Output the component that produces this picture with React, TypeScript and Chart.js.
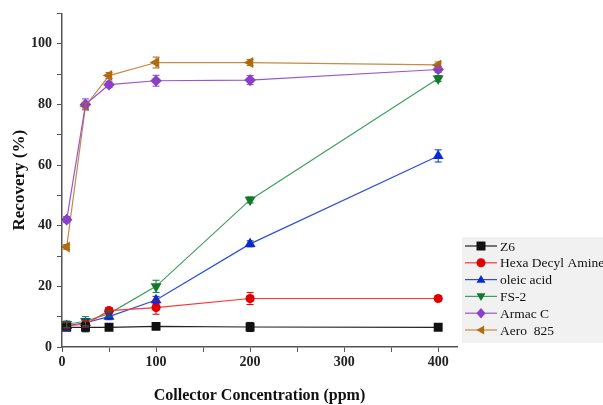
import React, { useEffect, useRef } from "react";
import { Chart, registerables } from "chart.js";

Chart.register(...registerables);

const concentrations = [5, 25, 50, 100, 200, 400];
const seriesNames = ["Z6", "Hexa Decyl Amine", "oleic acid", "FS-2", "Armac C", "Aero  825"];
const z6 = [6.5, 6.5, 6.5, 6.8, 6.6, 6.5];
const hexa = [7.0, 7.5, 12.0, 13.0, 16.0, 16.0];
const oleic = [7.0, 8.0, 10.0, 15.5, 34.0, 63.0];
const fs2 = [7.5, 8.5, 11.0, 20.0, 48.5, 88.5];
const armac = [42.0, 80.0, 86.5, 87.8, 88.0, 91.5];
const aero = [33.0, 79.5, 89.5, 93.8, 93.8, 93.0];
const z6Err = [1.0, 1.5, 0.8, 0.8, 1.5, 0.6];
const hexaErr = [1.0, 1.0, 1.0, 2.2, 2.0, 0.8];
const oleicErr = [1.5, 1.2, 1.0, 1.2, 1.0, 2.0];
const fs2Err = [1.0, 1.5, 1.0, 2.0, 1.0, 1.0];
const armacErr = [1.0, 1.8, 1.0, 1.8, 1.5, 1.0];
const aeroErr = [0.8, 1.0, 1.0, 1.8, 1.0, 1.0];
const xTicks = [0, 100, 200, 300, 400];
const yTicks = [0, 20, 40, 60, 80, 100];

const values = [z6, hexa, oleic, fs2, armac, aero];
const errors = [z6Err, hexaErr, oleicErr, fs2Err, armacErr, aeroErr];
const lineColors = ["#222222", "#ff3535", "#2a4ee0", "#3f9f5f", "#9a55d0", "#c48c45"];
const markColors = ["#111111", "#e00000", "#0a2ad0", "#117a2a", "#8a3fc9", "#b06a10"];
const markStyles = ["rect", "circle", "triangle", "triangle", "rectRot", "triangle"];
const markRot = [0, 0, 0, 180, 0, -90];
const markRad = [6.3, 4.6, 6.3, 6.3, 5.8, 6.3];

const SERIF = "'Liberation Serif', 'Times New Roman', serif";

const errorBarPlugin = {
  id: "errorBars",
  afterDatasetsDraw(chart: any) {
    const ctx = chart.ctx;
    const yScale = chart.scales.y;
    chart.data.datasets.forEach((ds: any, i: number) => {
      const meta = chart.getDatasetMeta(i);
      const errs = errors[i];
      ctx.save();
      ctx.strokeStyle = markColors[i];
      ctx.lineWidth = 1;
      meta.data.forEach((pt: any, j: number) => {
        const v = values[i][j];
        const e = errs[j];
        const yTop = yScale.getPixelForValue(v + e);
        const yBot = yScale.getPixelForValue(v - e);
        const x = pt.x;
        ctx.beginPath();
        ctx.moveTo(x, yTop);
        ctx.lineTo(x, yBot);
        ctx.moveTo(x - 3.5, yTop);
        ctx.lineTo(x + 3.5, yTop);
        ctx.moveTo(x - 3.5, yBot);
        ctx.lineTo(x + 3.5, yBot);
        ctx.stroke();
      });
      ctx.restore();
    });
  },
};

function drawMarker(ctx: CanvasRenderingContext2D, style: string, r: number, x: number, y: number, rotDeg: number) {
  ctx.save();
  ctx.translate(x, y);
  ctx.rotate((rotDeg * Math.PI) / 180);
  ctx.beginPath();
  if (style === "rect") {
    ctx.rect(-r, -r, r * 2, r * 2);
  } else if (style === "circle") {
    ctx.arc(0, 0, r, 0, Math.PI * 2);
  } else if (style === "rectRot") {
    ctx.moveTo(0, -r * 1.15);
    ctx.lineTo(r, 0);
    ctx.lineTo(0, r * 1.15);
    ctx.lineTo(-r, 0);
    ctx.closePath();
  } else {
    ctx.moveTo(0, -r);
    ctx.lineTo(r * 1.0, r * 0.7);
    ctx.lineTo(-r * 1.0, r * 0.7);
    ctx.closePath();
  }
  ctx.fill();
  ctx.restore();
}

const legendPlugin = {
  id: "customLegend",
  afterDraw(chart: any) {
    const ctx = chart.ctx;
    ctx.save();
    ctx.fillStyle = "#f1f1f1";
    ctx.fillRect(462, 237, 141, 106);
    seriesNames.forEach((name, i) => {
      const y = 246 + i * 16.8;
      ctx.strokeStyle = lineColors[i];
      ctx.lineWidth = 1.2;
      ctx.beginPath();
      ctx.moveTo(465, y);
      ctx.lineTo(497, y);
      ctx.stroke();
      ctx.fillStyle = markColors[i];
      drawMarker(ctx, markStyles[i], 4.5, 481, y, markRot[i]);
      ctx.fillStyle = "#111";
      ctx.font = `13.5px ${SERIF}`;
      ctx.textBaseline = "middle";
      ctx.textAlign = "left";
      ctx.fillText(name, 500, y + 1);
    });
    ctx.restore();
  },
};

export default function App() {
  const ref = useRef<HTMLCanvasElement | null>(null);
  useEffect(() => {
    document.body.style.margin = "0";
    if (!ref.current) return;
    const chart = new Chart(ref.current, {
      type: "line",
      data: {
        datasets: seriesNames.map((name, i) => ({
          label: name,
          data: concentrations.map((c, j) => ({ x: c, y: values[i][j] })),
          borderColor: lineColors[i],
          backgroundColor: markColors[i],
          pointBackgroundColor: markColors[i],
          pointBorderColor: markColors[i],
          pointStyle: markStyles[i] as any,
          pointRotation: markRot[i],
          pointRadius: markRad[i],
          borderWidth: 1.2,
          pointBorderWidth: 0,
          tension: 0,
        })),
      },
      options: {
        animation: false,
        responsive: false,
        devicePixelRatio: 1,
        layout: { padding: { left: 0, right: 146, top: 7, bottom: 0 } },
        plugins: { legend: { display: false }, tooltip: { enabled: false } },
        scales: {
          x: {
            type: "linear",
            min: 0,
            max: 420,
            afterFit: (s: any) => {
              s.height = 58;
            },
            ticks: {
              stepSize: 50,
              includeBounds: false,
              autoSkip: false,
              maxRotation: 0,
              padding: 2,
              color: "#222",
              font: { family: SERIF, size: 14, weight: "bold" },
              callback: (v: any) => (xTicks.includes(Number(v)) ? String(v) : ""),
            },
            grid: { display: true, drawOnChartArea: false, drawTicks: true, tickLength: 5, color: "#555" },
            border: { display: true, color: "#555", width: 1.5 },
            title: {
              display: true,
              text: "Collector Concentration (ppm)",
              color: "#111",
              font: { family: SERIF, size: 16, weight: "bold" },
              padding: { top: 4, bottom: 0 },
            },
          },
          y: {
            type: "linear",
            min: 0,
            max: 110,
            afterFit: (s: any) => {
              s.width = 62;
            },
            ticks: {
              stepSize: 10,
              includeBounds: false,
              autoSkip: false,
              padding: 5,
              color: "#222",
              font: { family: SERIF, size: 14, weight: "bold" },
              callback: (v: any) => (yTicks.includes(Number(v)) ? String(v) : ""),
            },
            grid: { display: true, drawOnChartArea: false, drawTicks: true, tickLength: 5, color: "#555" },
            border: { display: true, color: "#555", width: 1.5 },
            title: {
              display: true,
              text: "Recovery (%)",
              color: "#111",
              font: { family: SERIF, size: 17, weight: "bold" },
              padding: { top: 9, bottom: 0 },
            },
          },
        },
      },
      plugins: [errorBarPlugin, legendPlugin],
    });
    return () => chart.destroy();
  }, []);
  return (
    <div style={{ position: "fixed", left: 0, top: 0, width: 603, height: 405, background: "#fff" }}>
      <canvas ref={ref} width={603} height={405} />
    </div>
  );
}
